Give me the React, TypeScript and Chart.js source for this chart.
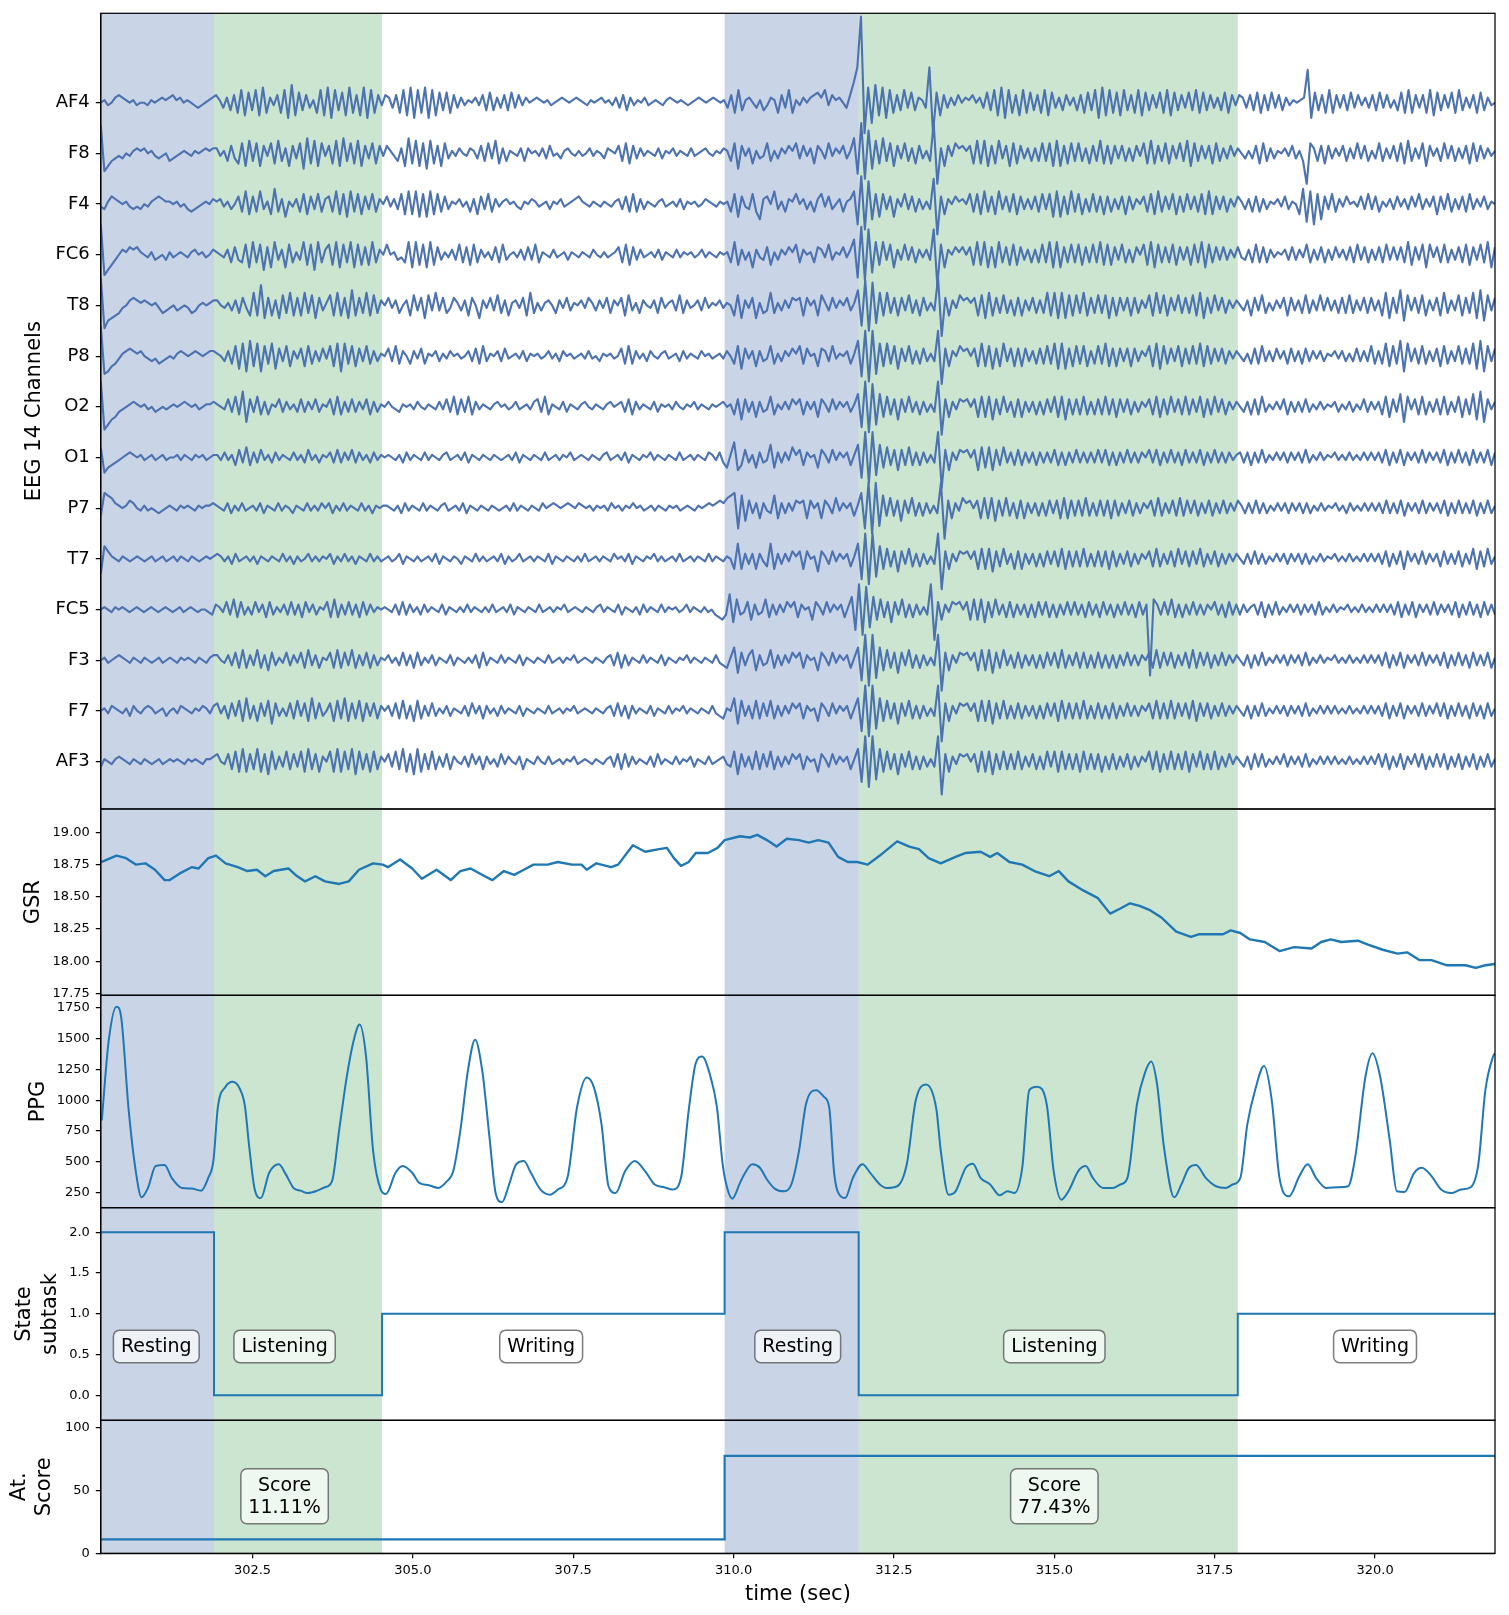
import React, { useEffect, useRef } from "react";
import { Chart, registerables } from "chart.js";

Chart.register(...registerables);

const FONT = "'DejaVu Sans', 'Liberation Sans', sans-serif";
const FIG_W = 1509;
const FIG_H = 1615;
const PLOT_LEFT = 100.8;
const PLOT_RIGHT = 1495;
const EDGE = 22;

const X_MIN = 300.135;
const X_MAX = 321.87;
const X_TICKS = [302.5, 305.0, 307.5, 310.0, 312.5, 315.0, 317.5, 320.0];

// ---- EEG (14 channels, top to bottom), sampled ~18 Hz ----
const CHANNELS = ["AF4", "F8", "F4", "FC6", "T8", "P8", "O2", "O1", "P7", "T7", "FC5", "F3", "F7", "AF3"];
const EEG_T0 = 300.135;
const EEG_T1 = 321.87;
const EEG_UNIT = 0.05; // one integer step, in channel spacings

const EEG_AF4 = [0,1,-1,0,2,3,2,1,0,1,-1,0,0,-1,1,0,1,2,1,2,3,1,2,0,1,0,-1,-2,-1,0,1,2,
3,1,-2,2,-3,3,-4,5,-5,4,-3,5,-5,6,-4,2,-1,3,-4,5,-6,7,-5,4,-3,3,-2,1,-4,5,-5,6,-6,5,-3,4,-5,6,-4,3,-5,6,-6,5,-4,3,-1,
3,2,-2,3,-4,5,-5,6,-6,5,-4,6,-6,5,-5,4,-3,4,-4,3,-2,2,-1,1,0,2,-1,3,-3,4,-3,2,-2,3,-3,4,-2,3,-1,2,0,1,2,1,0,1,-1,0,1,2,1,0,1,2,1,0,-1,1,0,1,2,0,1,-1,2,-2,3,-3,2,-1,1,0,2,-1,0,1,0,-1,1,2,1,0,1,0,-1,0,1,2,1,0,1,2,1,0,1,
-2,3,-4,5,-3,1,2,0,-2,1,-3,-1,2,1,-4,3,-2,5,-4,1,-1,2,0,2,3,4,2,5,-1,3,1,2,0,-2,3,8,14,
34,-12,6,-8,7,-5,6,-6,5,-4,3,-3,5,-2,4,-3,2,1,-2,14,-12,4,-5,3,-2,2,-1,3,0,2,1,3,0,2,-2,4,-3,5,-5,6,-6,5,-4,3,-5,5,-4,4,-3,3,-4,5,-5,4,-2,2,-3,3,-1,2,-3,3,-4,4,-3,5,-6,6,-5,5,-4,4,-5,5,-3,3,-4,5,-5,4,-3,3,-2,4,-4,5,-5,4,-3,3,-2,4,-3,5,-4,4,-3,3,-2,2,-3,4,-4,3,-1,
3,2,-2,3,-3,4,-4,3,-3,4,-2,3,-3,2,-1,1,0,1,2,13,-6,4,-3,3,-4,5,-4,3,-2,3,-3,4,-2,3,-1,2,-2,3,-3,4,-2,3,-2,1,-3,4,-4,5,-4,3,-2,3,-4,5,-5,4,-3,3,-2,4,-4,5,-3,2,-2,3,-4,4,-3,2,-1,0];
const EEG_F8 = [11,-7,-5,-3,-2,-1,-2,0,-1,1,2,1,2,0,1,-1,-2,-1,0,-3,-2,-1,0,1,0,-1,1,0,1,2,1,2,
2,-1,1,-3,3,-2,-4,4,-5,5,-3,4,-5,3,-1,4,-4,5,-3,2,-5,3,-2,4,-6,6,-4,5,-5,4,-1,3,-4,5,-5,6,-3,4,-4,5,-5,3,-2,4,-4,3,-1,
3,1,-1,-3,2,-5,6,-4,5,-5,4,-6,5,-4,3,-5,4,-2,1,-1,2,0,-1,2,1,-2,3,-3,4,-2,5,-4,2,-3,1,0,-1,2,-3,2,0,1,-1,2,-2,3,-1,0,-2,1,2,0,-1,1,-1,0,2,-1,1,0,-2,2,1,0,3,-3,4,-4,3,-2,2,-1,1,0,-1,2,-2,1,0,2,-1,1,0,-1,2,-1,0,1,2,0,-1,1,0,2,1,
-3,4,-6,3,-1,2,-4,1,-2,-1,4,-3,1,-2,2,0,3,1,4,-2,3,-1,2,-4,3,1,-2,4,-1,2,0,3,-2,1,6,-8,12,
-10,9,-6,5,-4,6,-3,4,-5,3,-2,4,-3,2,-4,3,-2,1,-3,12,-12,2,-5,3,-1,4,2,3,1,3,-4,5,-4,5,-5,3,-4,5,-2,3,-5,4,-4,3,-2,2,-3,2,-3,4,-3,4,-5,5,-5,3,-4,4,-3,4,-3,2,-4,3,-3,5,-4,3,-4,3,-2,3,-3,2,-3,3,-1,4,-4,5,-4,3,-3,4,-4,3,-2,4,-3,5,-5,4,-3,3,-2,3,-4,4,-3,2,-2,3,-1,
2,0,-2,1,-2,3,-4,4,-3,2,-2,1,0,2,-1,3,-2,1,-3,-12,4,2,-3,3,-4,3,-2,2,-1,3,-3,2,-2,4,-2,3,-3,1,-2,4,-3,2,-2,3,-3,4,-4,5,-3,2,-2,4,-5,3,-1,2,-3,4,-2,3,-3,2,-2,3,-4,4,-3,3,-2,2,-1,1];
const EEG_F4 = [-1,-2,1,3,2,1,0,1,-1,-2,-1,-2,0,-1,1,2,3,2,1,1,0,1,-1,0,-2,-3,-2,-1,0,1,0,2,
1,2,-1,1,-2,0,3,-3,5,-4,3,-3,5,-2,1,-4,6,-3,2,-5,1,-1,2,-3,4,-4,3,-2,4,-3,2,3,-3,5,-4,4,-5,5,-3,4,-4,3,-2,4,-3,2,0,
3,-1,2,-2,4,-4,5,-4,5,-5,4,-5,5,-4,4,-3,3,-2,1,0,2,-1,1,-3,2,-4,3,-2,4,-3,2,-1,1,2,0,1,-1,-2,1,0,2,1,-1,0,1,-2,1,0,2,-1,0,1,2,3,1,0,-1,1,0,-1,1,0,-1,1,2,-2,3,-3,4,-3,2,-2,1,0,-1,1,2,-1,0,1,-1,2,-2,1,0,1,-1,0,2,1,0,-1,1,0,1,
-3,4,-5,3,-1,-2,4,-3,-6,2,3,0,5,-2,1,-3,2,1,4,0,2,-2,1,-3,2,4,-1,3,-2,0,2,-3,1,2,5,-8,11,
-10,9,-6,4,-5,4,-2,3,-5,2,-1,4,-2,3,-3,2,-2,1,-2,10,-12,3,-4,2,0,3,1,2,0,4,-3,4,-4,5,-3,3,-4,5,-2,3,-3,4,-4,3,-2,2,-2,3,-3,4,-2,4,-5,5,-5,3,-4,5,-3,4,-4,2,-3,4,-3,3,-4,3,-3,2,-2,3,-4,3,-2,2,0,3,-3,4,-4,5,-3,3,-2,4,-4,3,-3,4,-2,3,-3,4,-4,5,-4,3,-2,3,-3,2,-1,
3,1,-2,2,-3,3,-3,2,-2,1,0,2,-1,3,-2,1,0,-4,6,-7,5,-8,4,-6,3,-2,4,-3,2,-1,3,0,1,-1,3,-2,4,-2,3,-3,1,-1,2,-2,3,-1,2,-2,3,-1,4,-2,2,-1,3,-4,3,-2,4,-3,2,-2,3,-3,4,-2,2,-1,3,-2,1,0];
const EEG_FC6 = [12,-8,-6,-4,-2,0,2,1,3,2,3,1,0,-1,1,-2,-1,0,-2,1,-1,0,1,0,-1,1,2,0,1,-1,0,2,
1,0,-1,2,-3,3,-2,-3,4,-5,5,-3,4,-6,3,-5,5,-2,2,-5,4,-3,1,-2,5,-4,4,-6,5,-3,2,4,-4,5,-5,4,-3,5,-5,4,-4,3,-4,5,-3,2,0,
4,0,1,-2,-1,-3,5,-5,5,-4,4,-5,5,-4,3,-2,1,-1,2,-2,4,-3,3,-4,4,-3,2,-1,1,-2,3,-3,4,-2,0,1,-1,2,-2,3,-2,4,-3,1,0,-1,2,-1,0,1,-2,1,0,-1,1,0,-1,2,0,-1,1,-1,0,1,3,-3,4,-4,3,-2,2,-1,0,1,-1,2,-2,1,0,-1,2,-1,1,0,1,-1,0,2,-1,1,0,-1,1,0,1,
-3,5,-4,2,-2,1,-5,2,-1,-2,3,-4,1,-2,2,0,3,1,4,-3,2,0,1,-3,3,2,-1,4,-2,1,0,3,-1,2,6,-9,11,
-10,10,-7,5,-4,5,-2,4,-5,2,-2,4,-2,3,-3,2,-1,2,-2,10,-12,4,-5,2,0,3,1,3,0,3,-4,5,-4,5,-5,3,-5,5,-3,3,-4,4,-4,3,-2,2,-3,2,-3,4,-3,5,-5,5,-5,3,-3,4,-3,4,-4,3,-3,4,-3,5,-4,4,-4,3,-2,4,-3,2,-3,3,0,4,-4,5,-5,4,-3,3,-3,4,-4,3,-2,3,-4,4,-3,5,-5,4,-3,3,-2,3,-2,2,-1,
3,-1,-2,2,-3,4,-3,3,-3,2,-1,1,0,2,-2,3,-2,2,-1,4,-3,2,-2,3,-3,2,-2,3,-1,2,-2,3,-3,4,-2,3,-3,2,-2,3,-3,4,-2,3,-2,3,-3,5,-4,3,-2,4,-5,4,-1,3,-3,4,-3,2,-2,3,-3,4,-4,3,-2,4,-3,5,-5,3];
const EEG_T8 = [11,-9,-6,-5,-4,-3,-1,0,2,3,2,1,2,1,0,1,-1,-3,-2,-1,0,-2,-1,0,-1,-3,-2,0,1,0,1,2,
2,0,-1,1,-2,2,-3,3,-1,-4,5,-4,8,-5,3,-4,2,-5,4,-3,5,-4,3,-4,5,-3,4,-5,3,-2,1,4,-4,5,-4,3,-5,6,-4,3,-3,5,-4,4,-3,2,0,
3,-1,2,-3,0,2,-4,4,-2,3,-5,4,-2,5,-2,3,-3,-1,3,1,-2,2,-4,3,0,-5,2,-1,3,-2,4,-3,2,-4,1,2,-1,3,-4,5,-3,1,-2,1,2,0,-3,2,-1,3,-2,1,0,2,-1,3,1,-2,2,-1,3,-3,2,0,3,-4,4,-2,1,-3,2,0,-1,2,-3,3,-1,1,2,-2,4,-3,2,-1,0,2,-2,3,-1,1,0,2,-1,1,0,
-4,4,-5,2,-1,3,-5,1,-3,-2,5,-3,1,-2,2,-1,3,2,3,-4,3,0,2,-4,4,1,-2,3,-1,2,0,3,-2,1,6,-8,10,
-10,9,-7,5,-4,5,-3,3,-4,3,-2,4,-3,2,-4,3,-2,1,-2,11,-12,3,-4,2,-1,4,2,3,1,3,-4,4,-5,5,-4,3,-3,4,-3,2,-4,3,-4,2,-2,3,-3,2,-3,5,-4,5,-5,5,-5,4,-4,4,-3,5,-4,3,-3,4,-3,4,-5,3,-4,3,-2,3,-4,3,-3,2,-1,4,-4,5,-3,4,-4,3,-2,4,-3,3,-3,4,-4,5,-5,3,-3,4,-2,3,-3,2,-1,
2,0,-2,2,-4,3,-2,4,-3,1,-2,2,-1,3,-4,3,-2,2,-3,4,-3,2,-2,4,-2,3,-2,2,-3,3,-3,4,-3,2,-2,3,-3,3,-2,2,-4,5,-5,3,-3,6,-6,4,-2,3,-3,4,-4,2,-2,3,-4,5,-3,2,-2,4,-4,3,-3,5,-5,6,-6,4,-2,3];
const EEG_P8 = [12,-7,-6,-4,-3,-1,1,2,3,2,1,2,0,-1,-2,-1,-3,-2,-1,0,-1,1,2,1,0,1,2,1,0,1,2,2,
1,0,-2,2,-3,4,-5,5,-6,6,-4,5,-6,4,-3,5,-5,3,-2,4,-4,2,-1,3,-4,4,-3,2,-2,3,-1,4,-4,5,-6,5,-3,4,-4,3,-2,4,-3,2,-2,1,0,
3,-2,4,-3,2,0,-3,2,-1,3,-3,1,0,2,-2,1,-1,2,0,1,-1,0,2,-2,3,-3,4,-2,1,0,2,-2,3,-1,0,1,-1,2,-2,1,0,1,-1,0,2,-1,1,-2,2,0,1,-1,0,1,-1,2,-1,0,-2,1,0,1,-1,0,3,-3,4,-3,2,-1,1,-2,2,0,-1,1,2,-1,0,1,-2,2,-1,1,0,-1,2,0,1,-1,0,1,-1,2,0,
-3,4,-5,3,-1,2,-4,2,-2,-1,4,-3,1,-2,2,0,3,1,4,-3,3,0,1,-4,3,2,-2,4,-1,1,0,2,-3,1,6,-8,10,
-10,10,-7,5,-4,5,-3,4,-5,3,-2,4,-3,2,-3,3,-2,1,-2,10,-11,3,-4,2,0,4,2,3,0,3,-4,5,-4,4,-5,3,-4,5,-2,3,-4,3,-4,3,-2,2,-3,3,-3,4,-3,5,-5,5,-5,3,-4,4,-3,4,-4,2,-3,4,-3,5,-4,3,-4,3,-2,3,-4,3,-2,2,0,4,-4,5,-5,4,-3,3,-2,4,-4,3,-3,4,-3,5,-4,4,-3,3,-2,3,-3,2,-1,
2,0,-2,1,-3,3,-3,4,-2,2,-2,3,-1,2,-3,3,-2,2,-3,3,-2,2,-1,2,-2,1,0,2,-1,2,-2,1,-2,3,-2,2,-2,4,-3,2,-3,5,-4,4,-3,6,-6,5,-2,3,-3,4,-3,2,-2,3,-4,4,-3,2,-2,4,-3,3,-3,5,-5,6,-6,4,-2,3];
const EEG_O2 = [10,-9,-7,-5,-4,-2,-1,0,1,2,1,0,1,-1,0,-2,-1,0,-1,0,1,0,1,2,1,0,1,-1,0,1,1,2,
1,0,-1,3,-2,4,-3,6,-6,3,-2,4,-3,2,-3,1,0,3,-2,2,-1,1,-2,3,-2,2,-1,3,-2,1,0,3,-3,4,-3,2,-2,3,-2,2,-1,3,-3,2,-2,1,0,
2,0,-1,-2,1,0,1,-1,2,0,-1,1,0,-1,2,-1,3,-2,4,-3,3,-2,4,-3,2,-1,1,0,-1,1,2,0,1,-1,0,2,-1,0,1,-1,2,3,-2,4,-3,1,0,-1,2,-2,1,0,-1,1,2,0,-1,1,0,-1,1,2,0,1,2,-2,3,-3,2,-1,1,0,-1,2,-2,1,0,1,-1,2,0,-1,1,0,2,-1,1,0,-1,1,0,1,2,0,1,
-3,3,-5,3,-2,2,-4,2,-2,-1,4,-3,1,-1,2,-1,3,1,3,-3,2,-1,2,-4,3,1,-2,3,-1,2,0,2,-2,1,5,-8,10,
-10,9,-7,5,-4,4,-3,3,-5,3,-2,4,-2,2,-3,2,-2,1,-2,10,-11,3,-4,2,-1,3,2,3,0,3,-4,4,-4,4,-5,3,-3,4,-2,2,-4,3,-4,2,-2,2,-3,2,-3,3,-2,4,-4,4,-5,3,-3,3,-3,4,-3,2,-3,3,-3,4,-3,3,-4,3,-2,3,-3,2,-2,2,0,3,-3,4,-4,3,-3,4,-2,3,-3,4,-3,3,-2,4,-4,3,-3,4,-2,3,-3,2,-1,
2,0,-2,2,-3,3,-3,4,-2,1,-1,2,-1,3,-3,2,-2,2,-2,3,-2,1,-1,2,-1,1,0,2,-2,1,-1,2,-2,1,-1,3,-2,2,-1,2,-3,4,-4,3,-2,5,-6,4,-1,3,-3,4,-3,2,-2,3,-3,4,-3,2,-2,4,-4,3,-3,5,-5,6,-6,3,-1,2];
const EEG_O1 = [4,-6,-4,-3,-2,-1,0,1,2,1,0,1,-1,0,1,-1,0,1,-1,0,0,1,-1,1,0,-1,1,0,1,-1,0,1,
1,-1,2,-1,1,-3,3,-2,4,-3,2,-2,3,-1,1,-2,2,-1,1,0,-1,2,-1,1,-2,3,-1,1,-2,1,0,2,-2,3,-2,2,-1,3,-2,2,-1,1,-2,2,-1,1,0,
1,0,-1,1,-2,2,-1,1,0,-1,2,-1,1,0,-1,1,2,-1,0,1,-1,2,-2,1,0,-1,1,0,-1,1,0,-1,0,1,-1,2,-2,1,0,-1,1,0,-1,2,-1,0,1,-1,1,0,2,-1,0,1,0,-1,1,0,-1,1,2,-1,0,1,-1,2,-2,1,0,-1,1,0,2,-1,1,0,-1,1,0,-1,2,-1,0,1,-1,1,0,-1,2,1,-1,2,-2,-4,1,
6,-5,-3,3,-2,1,-4,2,-2,-1,5,-4,2,-2,2,-1,4,1,3,-3,2,0,1,-4,3,1,-2,3,-1,2,0,2,-3,1,5,-8,10,
-10,10,-7,5,-4,4,-3,3,-5,3,-3,4,-3,2,-3,2,-2,1,-2,10,-12,3,-5,2,-1,3,2,3,0,3,-5,4,-4,4,-5,3,-3,4,-2,2,-3,3,-3,2,-2,2,-3,2,-2,2,-2,3,-3,2,-3,2,-2,3,-2,2,-2,2,-2,3,-2,3,-3,2,-3,2,-2,3,-2,2,-2,2,0,3,-2,3,-3,2,-2,3,-2,2,-3,3,-2,2,-2,3,-3,2,-2,3,-2,2,-2,2,-1,
1,2,-2,2,-3,2,-2,3,-2,1,-1,2,-1,2,-2,2,-1,2,-2,3,-2,1,-1,2,-1,1,0,2,-1,1,-1,2,-1,1,-1,2,-1,2,-1,2,-2,3,-3,2,-2,3,-3,2,-1,2,-2,3,-2,2,-1,2,-2,3,-3,2,-2,3,-2,2,-3,3,-2,2,-2,3,-3,2];
const EEG_P7 = [-3,6,5,4,2,1,0,1,3,2,0,-1,1,-1,0,-1,-2,-1,0,1,0,-1,1,0,1,0,-1,1,0,1,1,2,
1,0,-1,2,-2,1,-1,2,-1,0,1,-1,2,-2,1,0,-1,2,-1,1,0,-2,1,0,-1,2,-1,1,-1,2,0,2,-2,1,-1,2,-1,1,0,-1,2,-1,1,-2,1,0,1,
1,0,-1,1,-2,2,-1,1,0,-1,2,-1,1,0,-1,1,2,-1,0,1,-1,2,-2,1,0,-1,1,0,-1,1,0,-1,0,1,-1,2,-1,1,0,-1,1,0,-1,2,0,1,2,1,0,1,2,1,0,2,1,0,1,-1,1,0,1,-1,2,0,1,-1,1,0,2,0,1,-1,0,1,-1,1,0,-1,1,0,1,-1,0,1,0,-1,1,0,1,2,1,2,3,2,4,5,6,
-8,5,-5,3,-2,2,-4,2,-1,-2,5,-4,2,-2,2,-1,3,2,3,-4,3,0,2,-4,3,1,-2,4,-1,2,0,2,-3,1,6,-8,10,
-10,10,-7,5,-3,4,-3,3,-5,3,-2,4,-3,2,-3,2,-2,1,-2,10,-12,3,-4,2,-1,4,2,3,0,3,-4,4,-4,4,-5,3,-3,4,-3,2,-4,3,-4,2,-2,2,-3,2,-3,3,-2,3,-4,4,-4,3,-3,3,-3,4,-3,2,-3,3,-3,3,-4,3,-3,2,-2,3,-3,2,-2,2,0,3,-3,4,-3,2,-2,3,-3,4,-3,3,-2,3,-3,2,-2,3,-3,2,-2,3,-2,2,-1,
3,1,-2,2,-2,3,-2,2,-2,1,-1,2,-1,2,-2,2,-1,2,-2,2,-2,1,-1,2,-1,1,0,2,-1,1,-2,2,-1,1,-1,2,-1,2,-1,2,-2,3,-2,2,-2,3,-3,2,-1,2,-2,3,-2,2,-1,2,-2,3,-3,2,-2,3,-2,2,-2,3,-3,2,-2,3,-2,1];
const EEG_T7 = [-6,5,3,1,0,-1,1,0,-1,0,1,0,-1,0,1,-1,0,1,-1,0,1,-1,1,0,-1,1,0,-1,0,1,0,1,
2,1,-1,1,-2,2,-1,0,1,-1,1,-2,1,0,-1,1,0,-1,2,-1,1,-2,1,-1,0,2,-1,1,-1,1,0,2,-2,1,-1,2,-1,1,-2,1,0,-1,2,-1,1,-1,0,
1,-1,0,2,-2,1,0,-1,1,-1,0,1,-1,2,-2,1,0,-1,1,0,-2,1,0,-1,2,-1,1,-1,0,1,-1,2,-2,1,-1,0,2,-1,0,1,-1,1,0,-1,2,-2,1,0,-1,1,0,-1,1,-1,2,-1,0,1,-1,1,0,-1,2,0,1,-1,2,-2,1,0,-1,1,0,2,-1,1,-1,0,1,-1,2,-1,0,1,-1,1,0,-1,2,-1,1,0,-1,1,0,
-4,6,-4,2,-2,2,-4,2,-1,-3,6,-4,2,-2,2,-1,3,1,3,-4,3,0,1,-5,3,1,-2,3,-1,2,0,2,-3,1,6,-8,10,
-10,10,-7,5,-4,4,-3,3,-5,3,-2,4,-3,2,-3,2,-2,1,-2,10,-12,3,-4,2,-1,3,2,3,0,3,-4,4,-4,4,-5,3,-3,4,-2,2,-4,3,-4,2,-2,2,-3,2,-3,3,-2,3,-3,4,-4,3,-3,3,-3,4,-3,2,-3,3,-3,3,-4,3,-3,2,-2,3,-3,2,-2,2,0,3,-3,4,-3,2,-2,3,-3,4,-2,3,-3,3,-2,4,-3,2,-2,3,-3,2,-2,2,-1,
2,0,-2,2,-2,3,-2,2,-2,1,-1,2,-1,2,-2,2,-1,2,-2,2,-2,1,-1,2,-1,1,0,2,-1,1,-1,2,-1,1,-1,2,-1,2,-1,2,-2,3,-3,2,-2,3,-4,3,-1,2,-2,3,-2,2,-1,2,-3,3,-2,2,-2,3,-3,2,-2,4,-4,3,-3,4,-2,1];
const EEG_FC5 = [0,1,0,-1,1,0,1,0,-1,0,1,0,-1,0,1,0,-1,0,1,0,-1,0,1,-1,0,1,0,-1,0,0,-1,-2,
2,1,-1,3,-2,4,-3,3,-2,1,-2,3,-1,2,-3,3,-2,1,-1,2,-2,3,-2,2,-3,3,-1,2,-2,1,0,3,-3,4,-3,2,-2,3,-2,2,-3,3,-2,2,-1,1,0,
1,0,-1,2,-2,3,-2,2,-1,1,-2,2,-1,1,0,-1,2,-2,1,0,-1,1,-1,2,-1,1,0,-1,1,-1,2,-1,0,1,-1,2,-2,1,0,-1,1,0,-1,2,-1,0,1,-1,1,0,2,-1,0,1,0,-1,1,0,-1,1,2,-1,1,0,-1,2,-2,1,0,-1,1,-2,2,-1,1,0,-1,2,-1,1,0,1,-1,0,2,-1,1,0,-1,1,-1,0,-2,-3,-4,-2,
6,-5,4,-2,-1,3,-4,2,-2,-1,4,-3,2,-2,2,-1,3,1,3,-3,2,0,1,-4,3,1,-2,3,-1,2,0,2,-3,1,5,-8,10,
-10,9,-7,5,-4,4,-3,3,-5,3,-2,4,-3,2,-3,2,-2,1,-2,10,-12,3,-4,2,-1,3,2,3,0,3,-4,4,-4,4,-5,3,-3,4,-2,2,-3,3,-3,2,-2,2,-3,2,-3,3,-2,3,-3,2,-3,2,-2,3,-2,3,-2,2,-3,3,-2,2,-3,3,-2,2,-3,2,-2,3,-2,2,-3,3,-2,2,-26,4,2,-2,3,-2,4,-3,2,-3,2,-2,3,-2,2,-2,2,0,3,-2,2,-3,3,-2,2,-2,2,-1,
1,2,-2,3,-3,2,-2,3,-2,1,-1,2,-1,2,-2,2,-1,2,-2,3,-2,1,-1,2,-1,1,0,2,-1,1,-1,2,-1,1,-1,2,-1,2,-1,2,-2,3,-3,2,-2,3,-3,2,-1,2,-2,3,-2,2,-1,2,-2,3,-3,2,-2,3,-2,2,-3,3,-2,2,-2];
const EEG_F3 = [0,1,-1,0,1,2,1,0,-1,1,0,-1,1,0,-1,0,1,-1,0,1,0,-1,1,0,1,0,-1,1,0,-1,1,2,
2,0,-1,2,-2,3,-3,4,-3,2,-2,4,-3,2,-4,3,-2,1,-1,3,-2,2,-1,3,-3,4,-2,2,-3,1,0,3,-3,4,-3,3,-2,4,-3,2,-2,3,-3,2,-2,1,0,
2,-1,1,-2,3,-2,2,-3,3,-2,1,-1,2,-2,1,0,-1,2,-2,1,0,-1,1,-1,2,-3,3,-2,1,0,-1,2,-1,1,0,-1,2,-2,1,0,-1,1,0,-1,2,-1,0,1,-1,1,0,2,-1,0,1,0,-1,1,0,-1,1,2,-2,3,-3,2,-2,1,0,-1,2,-1,1,0,-1,2,-2,1,0,-1,1,0,2,-1,1,0,-1,1,0,-1,2,-1,-2,-3,1,
5,-5,3,-2,2,4,-4,2,-2,-1,4,-3,2,-2,2,-1,3,1,3,-3,2,0,1,-4,3,1,-2,3,-1,2,0,2,-3,1,5,-8,10,
-10,10,-7,5,-4,4,-3,3,-5,3,-2,4,-3,2,-3,2,-2,1,-2,10,-12,3,-4,2,-1,3,2,3,0,3,-4,4,-4,4,-5,3,-3,4,-2,2,-3,3,-3,2,-2,2,-3,2,-3,3,-2,3,-3,4,-3,2,-2,3,-3,3,-3,2,-3,3,-3,2,-3,2,-3,2,-2,3,-2,2,-2,2,0,3,-3,4,-3,3,-2,3,-3,2,-2,3,-3,4,-3,3,-2,3,-3,2,-2,3,-2,2,-1,
2,0,-2,2,-3,2,-2,3,-2,1,-1,2,-1,2,-2,2,-1,2,-2,3,-2,1,-1,2,-1,1,0,2,-1,1,-1,2,-1,1,-1,2,-1,2,-1,2,-2,3,-3,2,-2,3,-3,2,-1,2,-2,3,-2,2,-1,2,-2,3,-3,2,-2,3,-2,2,-3,3,-2,2,-2,3,-3,1];
const EEG_F7 = [0,1,-1,2,1,0,-1,1,-2,2,0,-1,1,2,1,-1,0,1,-2,0,1,-1,2,1,0,-1,1,0,2,1,-1,2,
3,-1,2,-3,3,-2,4,-4,5,-3,2,-4,3,-2,4,-5,3,-2,1,-2,3,-3,4,-2,3,-4,5,-3,3,-2,0,3,-4,4,-3,5,-4,3,-3,4,-4,3,-2,3,-3,2,0,
2,-2,3,-3,4,-3,2,-4,4,-3,2,-2,3,-2,1,-1,2,-2,1,0,-1,2,-2,3,-1,2,-3,2,-1,1,-2,2,-1,1,0,-1,2,-2,1,0,-1,1,0,-1,2,-1,0,1,-1,1,0,2,-1,0,1,0,-1,1,0,-1,1,2,-2,3,-2,2,-3,2,-1,1,0,-1,2,-2,1,0,-1,2,-1,1,0,2,-1,1,0,-1,1,0,-1,2,-1,-2,-3,1,0,
5,-5,4,-2,2,-3,4,-3,3,-2,4,-3,2,-2,2,-1,3,1,3,-3,2,0,1,-4,3,1,-2,3,-1,2,0,2,-3,1,5,-8,10,
-10,10,-7,5,-4,4,-3,3,-5,3,-2,4,-3,2,-3,2,-2,1,-2,10,-12,3,-4,2,-1,3,2,3,0,3,-4,4,-4,4,-5,3,-3,4,-3,2,-3,3,-3,2,-2,2,-3,2,-3,3,-2,3,-4,4,-3,3,-3,3,-3,4,-3,2,-3,3,-3,2,-3,3,-3,2,-2,3,-2,2,-2,2,0,3,-3,4,-3,3,-3,4,-3,3,-2,3,-3,4,-4,3,-2,3,-3,2,-2,3,-2,2,-1,
2,0,-2,2,-3,2,-2,3,-2,1,-1,2,-1,2,-2,2,-1,2,-2,3,-2,1,-1,2,-1,2,-1,2,-1,1,-1,2,-1,1,-1,2,-1,2,-1,2,-2,3,-3,2,-2,3,-3,2,-1,2,-2,3,-2,2,-1,3,-2,3,-3,2,-2,3,-2,2,-3,3,-2,2,-3,3,-2,1];
const EEG_AF3 = [-2,1,0,-1,1,2,1,0,-1,1,0,-1,1,0,-1,0,1,-1,0,1,0,1,0,-1,1,0,1,0,-1,1,1,2,
3,0,-1,3,-3,4,-4,5,-4,3,-3,5,-4,3,-5,4,-3,2,-2,4,-3,3,-2,4,-4,5,-3,3,-4,2,0,4,-4,5,-4,4,-3,5,-5,4,-3,3,-4,4,-3,2,0,
3,-2,4,-3,5,-4,3,-5,5,-4,3,-3,4,-3,2,-2,3,-3,2,0,-1,2,-2,3,-1,2,-3,2,-1,1,-2,3,-1,2,0,-1,2,-3,1,0,-1,2,0,-1,2,-1,0,1,-1,1,0,2,-1,0,1,0,-1,1,0,-1,1,2,-2,3,-3,3,-2,2,-1,1,0,-1,2,-2,3,-1,1,0,-1,2,-1,1,0,2,-2,1,0,-1,2,-1,0,1,2,-1,-2,
4,-5,3,-2,2,-3,4,-3,3,-2,4,-3,2,-2,2,-1,3,1,3,-3,2,0,1,-4,3,1,-2,3,-1,2,0,2,-3,1,5,-8,10,
-10,10,-7,5,-4,4,-3,3,-5,3,-2,4,-3,2,-3,2,-2,1,-2,10,-13,3,-4,2,-1,3,2,3,0,3,-4,4,-4,4,-5,3,-3,4,-3,3,-3,4,-3,2,-2,3,-3,2,-3,4,-2,4,-4,4,-3,3,-3,3,-4,4,-3,3,-3,3,-4,2,-3,3,-3,2,-2,3,-3,2,-2,2,0,4,-3,4,-4,3,-3,4,-3,3,-3,4,-4,3,-2,4,-3,3,-3,4,-3,2,-2,3,-1,
2,0,-2,2,-3,3,-2,3,-2,1,-1,2,-1,3,-2,2,-1,2,-2,3,-2,1,-1,2,-1,2,-1,2,-1,1,-1,2,-1,1,-1,2,-1,2,-1,3,-2,3,-3,2,-2,3,-3,2,-1,3,-2,3,-3,2,-2,3,-2,3,-3,2,-2,3,-3,2,-2,3,-3,2,-2,3,-2,1];

const EEG_SERIES = [EEG_AF4, EEG_F8, EEG_F4, EEG_FC6, EEG_T8, EEG_P8, EEG_O2, EEG_O1, EEG_P7, EEG_T7, EEG_FC5, EEG_F3, EEG_F7, EEG_AF3];

// ---- GSR ----
const GSR_T = [300.14,300.38,300.53,300.68,300.83,300.98,301.13,301.21,301.36,301.55,301.66,301.81,301.93,302.08,302.27,302.42,302.57,302.70,302.83,303.06,303.17,303.32,303.48,303.63,303.85,304.00,304.16,304.38,304.53,304.61,304.80,304.99,305.14,305.37,305.59,305.74,305.90,306.12,306.24,306.42,306.58,306.73,306.88,307.10,307.26,307.48,307.63,307.71,307.86,308.09,308.20,308.43,308.62,308.84,308.96,309.07,309.18,309.30,309.41,309.60,309.75,309.86,
310.10,310.25,310.37,310.52,310.67,310.83,311.02,311.17,311.32,311.48,311.63,311.78,311.93,312.09,312.28,312.55,312.74,312.89,313.04,313.23,313.46,313.62,313.85,314.00,314.11,314.30,314.50,314.69,314.92,315.07,315.22,315.45,315.68,315.87,316.03,316.18,316.33,316.48,316.67,316.90,317.13,317.25,317.44,317.63,317.75,317.90,318.05,318.28,318.51,318.74,319.01,319.16,319.31,319.47,319.73,319.89,320.12,320.35,320.50,320.69,320.88,321.11,321.26,321.41,321.57,321.72,321.87];
const GSR_V = [18.77,18.82,18.80,18.75,18.76,18.71,18.63,18.63,18.68,18.73,18.72,18.80,18.82,18.76,18.73,18.70,18.71,18.66,18.70,18.72,18.67,18.62,18.66,18.62,18.60,18.62,18.71,18.76,18.75,18.73,18.79,18.72,18.64,18.71,18.63,18.70,18.72,18.66,18.63,18.70,18.67,18.71,18.75,18.75,18.77,18.75,18.75,18.71,18.76,18.73,18.75,18.90,18.85,18.87,18.88,18.80,18.74,18.77,18.84,18.84,18.88,18.94,
18.97,18.96,18.98,18.94,18.89,18.95,18.94,18.92,18.94,18.92,18.81,18.77,18.77,18.75,18.82,18.93,18.89,18.87,18.80,18.76,18.81,18.84,18.85,18.81,18.84,18.77,18.75,18.70,18.66,18.70,18.62,18.55,18.49,18.37,18.41,18.45,18.43,18.40,18.34,18.23,18.19,18.21,18.21,18.21,18.24,18.22,18.17,18.15,18.08,18.11,18.10,18.15,18.17,18.15,18.16,18.13,18.09,18.06,18.07,18.01,18.01,17.97,17.97,17.97,17.95,17.97,17.98];
const GSR_TICKS = [17.75, 18.0, 18.25, 18.5, 18.75, 19.0];

// ---- PPG ----
const PPG_T = [300.15,300.26,300.38,300.45,300.57,300.68,300.77,300.87,300.99,301.13,301.24,301.40,301.55,301.70,301.81,301.89,301.96,302.08,302.19,302.30,302.38,302.45,302.53,302.63,302.76,302.91,303.02,303.14,303.25,303.36,303.51,303.63,303.74,303.85,303.97,304.08,304.17,304.27,304.38,304.50,304.58,304.73,304.84,304.99,305.10,305.25,305.40,305.52,305.63,305.74,305.86,305.97,306.08,306.20,306.29,306.39,306.50,306.61,306.73,306.84,306.99,307.14,307.26,307.41,307.56,307.71,307.82,307.94,308.05,308.16,308.31,308.46,308.62,308.77,308.92,309.05,309.18,309.30,309.41,309.51,309.64,309.74,309.83,309.90,309.98,
310.10,310.18,310.29,310.41,310.52,310.64,310.79,310.90,311.02,311.13,311.29,311.41,311.49,311.57,311.67,311.74,311.86,312.01,312.13,312.28,312.39,312.55,312.70,312.84,313.00,313.16,313.23,313.35,313.46,313.62,313.73,313.85,314.00,314.15,314.27,314.38,314.50,314.61,314.73,314.88,314.99,315.11,315.22,315.38,315.49,315.60,315.76,315.91,316.03,316.14,316.29,316.41,316.51,316.60,316.71,316.87,316.98,317.10,317.21,317.36,317.52,317.67,317.78,317.90,318.01,318.13,318.27,318.39,318.51,318.66,318.82,318.95,319.08,319.24,319.43,319.58,319.69,319.85,319.96,320.08,320.23,320.34,320.46,320.61,320.73,320.88,321.03,321.19,321.34,321.49,321.61,321.72,321.84,321.87];
const PPG_V = [835,1490,1758,1682,917,425,212,288,466,474,370,288,283,266,370,507,944,1108,1149,1094,958,616,288,206,411,480,398,288,266,247,266,294,343,753,1190,1490,1613,1354,589,275,239,411,466,411,329,310,288,337,425,753,1245,1490,1245,671,247,173,316,480,507,411,275,234,275,370,944,1184,1108,807,302,247,425,507,425,316,294,275,370,917,1299,1354,1190,944,480,288,201,
329,411,480,452,357,283,261,316,589,971,1081,1026,944,398,220,206,370,480,411,316,288,302,480,999,1127,930,589,234,261,452,485,370,316,228,261,247,452,1081,1108,971,425,193,261,430,466,370,288,288,316,370,971,1217,1313,1135,616,212,316,452,474,370,302,288,316,370,807,1081,1277,999,370,220,384,480,370,288,294,302,534,1190,1381,1190,671,261,255,411,452,384,275,247,275,294,480,1081,1354,1381];
const PPG_TICKS = [250, 500, 750, 1000, 1250, 1500, 1750];

// ---- State subtask ----
const STATE_BOUNDS = [300.135, 301.9, 304.52, 309.86, 311.95, 317.86, 321.87];
const STATE_VALUES = [2, 0, 1, 2, 0, 1];
const STATE_NAMES = ["Resting", "Listening", "Writing", "Resting", "Listening", "Writing"];
const STATE_LABEL_X = [301.0, 303.0, 307.0, 311.0, 315.0, 320.0];
const STATE_LABEL_Y = 0.6;
const STATE_TICKS = [0, 0.5, 1.0, 1.5, 2.0];

// ---- Attention score ----
const SCORE_BOUNDS = [300.135, 309.86, 321.87];
const SCORE_VALUES = [11.11, 77.43];
const SCORE_LABEL_X = [303.0, 315.0];
const SCORE_LABEL_Y = 45.3;
const SCORE_TICKS = [0, 50, 100];

const SPAN_COLORS: Record<number, string> = {
  2: "rgba(76,114,176,0.3)",
  0: "rgba(85,168,104,0.3)",
};
const EEG_COLOR = "#4c72b0";
const LINE_COLOR = "#1f77b4";

const spansPlugin = {
  id: "spans",
  beforeDatasetsDraw(chart: any) {
    const { ctx, chartArea: a, scales } = chart;
    const x = scales.x;
    ctx.save();
    for (let i = 0; i < STATE_VALUES.length; i++) {
      const c = SPAN_COLORS[STATE_VALUES[i]];
      if (!c) continue;
      const x0 = Math.max(a.left, x.getPixelForValue(STATE_BOUNDS[i]));
      const x1 = Math.min(a.right, x.getPixelForValue(STATE_BOUNDS[i + 1]));
      ctx.fillStyle = c;
      ctx.fillRect(x0, a.top, x1 - x0, a.bottom - a.top);
    }
    ctx.restore();
  },
};

const framePlugin = {
  id: "frame",
  afterDraw(chart: any) {
    const { ctx, chartArea: a } = chart;
    ctx.save();
    ctx.strokeStyle = "#000";
    ctx.lineWidth = 1.25;
    ctx.strokeRect(a.left, a.top, a.right - a.left, a.bottom - a.top);
    ctx.restore();
  },
};

function drawBox(ctx: CanvasRenderingContext2D, cx: number, cy: number, lines: string[]) {
  ctx.save();
  ctx.font = `19px ${FONT}`;
  const lh = 22.5;
  const w = Math.max(...lines.map((l) => ctx.measureText(l).width)) + 15;
  const h = lines.length * lh + 10;
  ctx.beginPath();
  (ctx as any).roundRect(cx - w / 2, cy - h / 2, w, h, 6);
  ctx.fillStyle = "rgba(255,255,255,0.7)";
  ctx.fill();
  ctx.strokeStyle = "rgba(80,80,80,0.75)";
  ctx.lineWidth = 1.5;
  ctx.stroke();
  ctx.fillStyle = "#000";
  ctx.textAlign = "center";
  ctx.textBaseline = "middle";
  lines.forEach((l, j) => ctx.fillText(l, cx, cy - ((lines.length - 1) * lh) / 2 + j * lh + 1));
  ctx.restore();
}

const stateLabelPlugin = {
  id: "stateLabels",
  afterDatasetsDraw(chart: any) {
    const { ctx, scales } = chart;
    STATE_NAMES.forEach((n, i) => {
      drawBox(ctx, scales.x.getPixelForValue(STATE_LABEL_X[i]), scales.y.getPixelForValue(STATE_LABEL_Y), [n]);
    });
  },
};

const scoreLabelPlugin = {
  id: "scoreLabels",
  afterDatasetsDraw(chart: any) {
    const { ctx, scales } = chart;
    SCORE_VALUES.forEach((v, i) => {
      drawBox(ctx, scales.x.getPixelForValue(SCORE_LABEL_X[i]), scales.y.getPixelForValue(SCORE_LABEL_Y), ["Score", `${v.toFixed(2)}%`]);
    });
  },
};

function stepPoints(bounds: number[], values: number[]) {
  const pts: { x: number; y: number }[] = [];
  values.forEach((v, i) => {
    pts.push({ x: bounds[i], y: v });
    pts.push({ x: bounds[i + 1], y: v });
  });
  return pts;
}

type PanelDef = {
  top: number;
  bottom: number;
  ymin: number;
  ymax: number;
  ticks: number[];
  fmt: (v: number) => string;
  tickSize: number;
  title: string | string[];
  titlePad: number;
  datasets: any[];
  plugins: any[];
  xAxis: boolean;
};

const PANELS: PanelDef[] = [
  {
    top: 13.3, bottom: 809, ymin: -0.935, ymax: 14.764,
    ticks: CHANNELS.map((_, k) => k),
    fmt: (v) => CHANNELS[CHANNELS.length - 1 - Math.round(v)],
    tickSize: 18, title: "EEG 14 Channels", titlePad: 21.6,
    datasets: EEG_SERIES.map((arr, k) => ({
      data: arr.map((v, i) => ({
        x: EEG_T0 + ((EEG_T1 - EEG_T0) * i) / (arr.length - 1),
        y: CHANNELS.length - 1 - k + v * EEG_UNIT,
      })),
      borderColor: EEG_COLOR, borderWidth: 2.1, pointRadius: 0, tension: 0,
      borderJoinStyle: "round",
    })),
    plugins: [spansPlugin, framePlugin], xAxis: false,
  },
  {
    top: 809, bottom: 995.3, ymin: 17.737, ymax: 19.181,
    ticks: GSR_TICKS, fmt: (v) => v.toFixed(2), tickSize: 13,
    title: "GSR", titlePad: 20.7,
    datasets: [{
      data: GSR_T.map((t, i) => ({ x: t, y: GSR_V[i] })),
      borderColor: LINE_COLOR, borderWidth: 2.4, pointRadius: 0, tension: 0, borderJoinStyle: "round",
    }],
    plugins: [spansPlugin, framePlugin], xAxis: false,
  },
  {
    top: 995.3, bottom: 1207.7, ymin: 128, ymax: 1850,
    ticks: PPG_TICKS, fmt: (v) => String(Math.round(v)), tickSize: 13,
    title: "PPG", titlePad: 26.2,
    datasets: [{
      data: PPG_T.map((t, i) => ({ x: t, y: PPG_V[i] })),
      borderColor: LINE_COLOR, borderWidth: 2, pointRadius: 0, cubicInterpolationMode: "monotone",
      borderJoinStyle: "round",
    }],
    plugins: [spansPlugin, framePlugin], xAxis: false,
  },
  {
    top: 1207.7, bottom: 1420.3, ymin: -0.307, ymax: 2.302,
    ticks: STATE_TICKS, fmt: (v) => v.toFixed(1), tickSize: 13,
    title: ["State", "subtask"], titlePad: 12.4,
    datasets: [{
      data: stepPoints(STATE_BOUNDS, STATE_VALUES),
      borderColor: LINE_COLOR, borderWidth: 2, pointRadius: 0, tension: 0,
    }],
    plugins: [spansPlugin, stateLabelPlugin, framePlugin], xAxis: false,
  },
  {
    top: 1420.3, bottom: 1553.3, ymin: 0, ymax: 105.6,
    ticks: SCORE_TICKS, fmt: (v) => String(Math.round(v)), tickSize: 13,
    title: ["At.", "Score"], titlePad: 6.6,
    datasets: [{
      data: stepPoints(SCORE_BOUNDS, SCORE_VALUES),
      borderColor: LINE_COLOR, borderWidth: 2.2, pointRadius: 0, tension: 0,
    }],
    plugins: [spansPlugin, scoreLabelPlugin, framePlugin], xAxis: true,
  },
];

function layoutOf(p: PanelDef) {
  const canvasTop = Math.floor(p.top - EDGE);
  const canvasBottom = p.xAxis ? FIG_H : Math.ceil(p.bottom + EDGE);
  return {
    canvasTop,
    canvasH: canvasBottom - canvasTop,
    padTop: p.top - canvasTop,
    padBottom: p.xAxis ? 0 : canvasBottom - p.bottom,
    xAxisH: p.xAxis ? FIG_H - p.bottom : 0,
  };
}

function buildConfig(p: PanelDef): any {
  const L = layoutOf(p);
  const tickGrid = {
    display: true, drawOnChartArea: false, drawTicks: true, tickLength: 5, color: "#000", lineWidth: 1.25,
  };
  return {
    type: "line",
    data: { datasets: p.datasets },
    plugins: p.plugins,
    options: {
      responsive: false,
      animation: false,
      devicePixelRatio: 1,
      parsing: false,
      layout: { padding: { top: L.padTop, bottom: L.padBottom, left: 0, right: FIG_W - PLOT_RIGHT } },
      plugins: { legend: { display: false }, tooltip: { enabled: false } },
      scales: {
        x: {
          type: "linear",
          min: X_MIN,
          max: X_MAX,
          display: p.xAxis,
          afterBuildTicks: (s: any) => { s.ticks = X_TICKS.map((v) => ({ value: v })); },
          afterFit: (s: any) => { if (p.xAxis) s.height = L.xAxisH; },
          ticks: {
            autoSkip: false, maxRotation: 0, padding: 5, color: "#000",
            font: { family: FONT, size: 13 },
            callback: (v: any) => Number(v).toFixed(1),
          },
          grid: tickGrid,
          border: { display: true, color: "#000", width: 1.25 },
          title: {
            display: true, text: "time (sec)", color: "#000",
            font: { family: FONT, size: 21 }, padding: { top: 0, bottom: 7.4 },
          },
        },
        y: {
          type: "linear",
          min: p.ymin,
          max: p.ymax,
          afterBuildTicks: (s: any) => { s.ticks = p.ticks.map((v) => ({ value: v })); },
          afterFit: (s: any) => { s.width = PLOT_LEFT; },
          ticks: {
            autoSkip: false, padding: 6, color: "#000",
            font: { family: FONT, size: p.tickSize },
            callback: (v: any) => p.fmt(Number(v)),
          },
          grid: tickGrid,
          border: { display: true, color: "#000", width: 1.25 },
          title: {
            display: true, text: p.title, color: "#000",
            font: { family: FONT, size: 21 }, padding: { top: p.titlePad, bottom: 0 },
          },
        },
      },
    },
  };
}

export default function App() {
  const refs = [useRef<HTMLCanvasElement>(null), useRef<HTMLCanvasElement>(null), useRef<HTMLCanvasElement>(null), useRef<HTMLCanvasElement>(null), useRef<HTMLCanvasElement>(null)];

  useEffect(() => {
    const charts = PANELS.map((p, i) => new Chart(refs[i].current as HTMLCanvasElement, buildConfig(p)));
    return () => charts.forEach((c) => c.destroy());
  }, []);

  return (
    <div style={{ position: "absolute", left: 0, top: 0, width: FIG_W, height: FIG_H, background: "#fff", overflow: "hidden" }}>
      {PANELS.map((p, i) => {
        const L = layoutOf(p);
        return (
          <canvas
            key={i}
            ref={refs[i]}
            width={FIG_W}
            height={L.canvasH}
            style={{ position: "absolute", left: 0, top: L.canvasTop, width: FIG_W, height: L.canvasH }}
          />
        );
      })}
    </div>
  );
}
